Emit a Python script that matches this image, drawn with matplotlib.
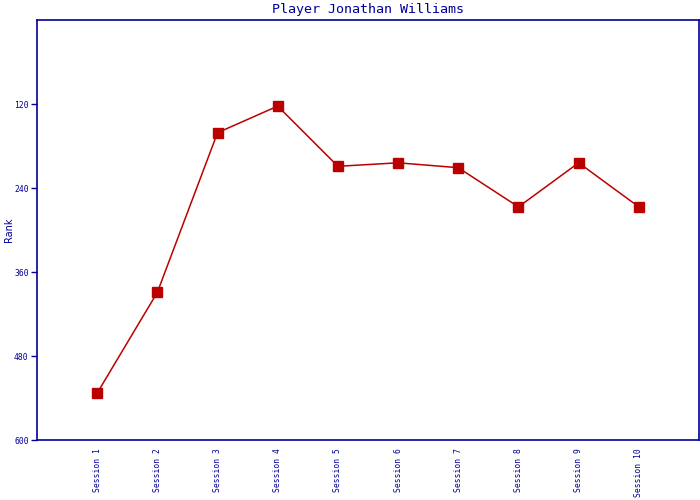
import matplotlib
matplotlib.use('Agg')
import matplotlib.pyplot as plt

# data
sessions = ['Session 1', 'Session 2', 'Session 3', 'Session 4', 'Session 5',
	'Session 6', 'Session 7', 'Session 8', 'Session 9', 'Session 10']
ranks = [533, 389, 161, 123, 209, 204, 211, 267, 204, 267]
y_ticks = [120, 240, 360, 480, 600]

navy = '#000099'
red = '#bb0000'

fig = plt.figure(figsize=(7, 5), dpi=100)
ax = fig.add_axes([37/700, 60/500, 662/700, 420/500])

xs = list(range(1, len(sessions) + 1))
ax.plot(xs, ranks, color=red, lw=1.1, marker='s', markersize=6.8,
	markerfacecolor=red, markeredgecolor=red)

ax.set_xlim(0, len(sessions) + 1)
ax.set_ylim(600, 0)
ax.set_xticks(xs)
ax.set_xticklabels(sessions, rotation=90, fontsize=5.8, family='DejaVu Sans Mono', color=navy)
ax.set_yticks(y_ticks)
ax.set_yticklabels([str(t) for t in y_ticks], fontsize=5.8, family='DejaVu Sans Mono', color=navy)
ax.tick_params(axis='x', length=0, pad=6)
ax.tick_params(axis='y', length=4, width=1, color=navy, pad=2)

for s in ax.spines.values():
	s.set_color(navy)
	s.set_linewidth(1.2)

ax.set_title('Player Jonathan Williams', fontsize=9.6, family='DejaVu Sans Mono', color=navy, pad=5)
ax.set_ylabel('Rank', fontsize=7, color=navy)
ax.yaxis.set_label_coords(-0.034, 0.5)

fig.savefig('out.png', dpi=100)
